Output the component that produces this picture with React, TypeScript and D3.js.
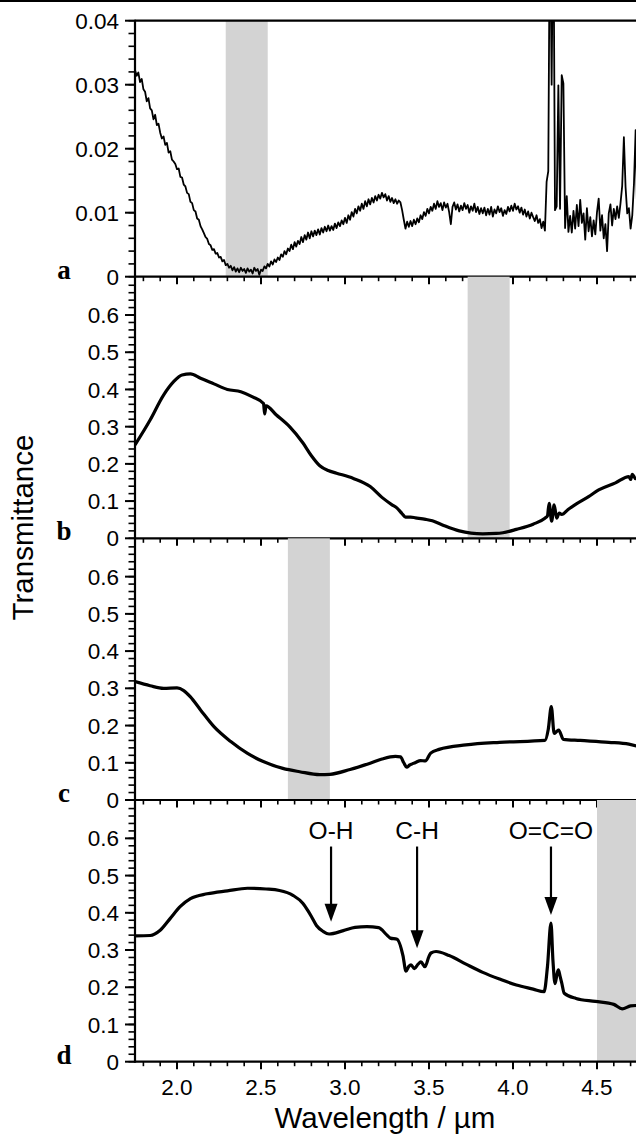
import {curveLinear, curveMonotoneX, format, line, range, scaleLinear} from "d3";

const WIDTH = 636;
const HEIGHT = 1136;

// panel a is sampled every 0.01 µm from 1.75 µm; values are transmittance × 10³
const WAVE_A = range(301).map((i) => +(1.75 + i * 0.01).toFixed(2));
const TRANS_A_E3 = [
  32.3, 31.4, 31.9, 30.4, 30.9, 29.3, 28.9, 27.4, 27.9, 26.3,
  26.0, 24.6, 25.3, 23.7, 23.9, 22.5, 21.6, 21.9, 20.6, 20.9,
  19.4, 19.6, 18.3, 18.0, 17.6, 16.8, 16.9, 15.6, 15.5, 14.4,
  14.1, 13.1, 12.9, 11.7, 11.5, 10.4, 10.2, 9.1, 8.9, 7.9,
  7.4, 6.8, 6.2, 5.9, 5.1, 4.9, 4.2, 4.3, 3.6, 3.7,
  3.0, 3.1, 2.4, 2.6, 1.8, 2.0, 1.4, 1.7, 1.0, 1.5,
  0.8, 1.3, 0.7, 1.4, 0.9, 1.2, 0.6, 1.3, 0.8, 1.1,
  0.5, 1.4, 0.9, 1.2, 0.3, 1.1, 0.9, 1.6, 1.3, 2.0,
  1.6, 2.4, 1.9, 2.7, 2.3, 3.0, 2.6, 3.5, 3.1, 4.0,
  3.5, 4.4, 4.0, 5.0, 4.3, 5.4, 4.7, 5.6, 5.1, 6.2,
  5.4, 6.5, 5.8, 6.9, 6.0, 7.1, 6.3, 7.2, 6.5, 7.4,
  6.6, 7.6, 6.9, 7.8, 7.1, 8.0, 7.2, 7.9, 7.3, 8.3,
  7.6, 8.5, 7.9, 8.8, 8.2, 9.2, 8.4, 9.6, 8.9, 10.1,
  9.4, 10.6, 9.9, 11.0, 10.3, 11.4, 10.6, 11.8, 11.0, 12.1,
  11.3, 12.3, 11.6, 12.6, 11.9, 12.8, 12.2, 13.1, 12.4, 12.9,
  11.9, 12.6, 11.7, 12.3, 11.5, 12.1, 11.4, 11.9, 11.6, 10.4,
  8.9, 7.5, 8.6, 7.8, 8.7, 7.9, 8.9, 8.2, 9.1, 8.5,
  9.6, 9.0, 10.1, 9.5, 10.6, 9.9, 10.9, 10.3, 11.4, 10.6,
  11.8, 10.9, 11.5, 10.4, 11.6, 10.8, 11.4, 10.1, 8.2, 10.9,
  11.6, 10.5, 11.3, 10.2, 11.1, 10.4, 11.5, 10.6, 11.2, 10.0,
  11.0, 10.3, 11.4, 10.1, 10.9, 9.8, 10.7, 9.9, 10.8, 9.6,
  10.6, 9.7, 10.9, 9.4, 10.5, 9.9, 11.0, 10.1, 10.7, 9.5,
  10.4, 9.8, 10.9, 10.2, 11.1, 10.3, 11.4, 10.5, 11.0, 10.0,
  10.8, 9.7, 10.5, 9.4, 10.2, 9.1, 10.0, 9.3, 8.7, 9.6,
  8.4, 9.0, 7.6, 8.6, 7.2, 14.8, 16.5, 60, 30, 60,
  10.4, 11.0, 29.9, 10.6, 31.5, 30.2, 7.6, 12.6, 7.0, 9.5,
  6.9, 10.3, 7.5, 11.2, 7.9, 12.0, 8.4, 9.9, 5.8, 10.7,
  7.1, 9.3, 6.3, 8.8, 6.6, 10.1, 12.2, 7.2, 9.6, 6.0,
  8.2, 4.0, 9.9, 11.3, 8.0, 10.6, 9.0, 11.0, 9.2, 11.5,
  14.2, 21.8, 14.0, 9.9, 10.7, 7.5, 9.6, 14.5, 22.9, 8.3,
  7.0
];

const WAVE_B = [
  1.75, 1.84, 1.92, 1.98, 2.03, 2.08, 2.14, 2.22, 2.3, 2.38, 2.45, 2.515, 2.522, 2.53,
  2.59, 2.67, 2.75, 2.8, 2.85, 2.9, 2.95, 3.05, 3.15, 3.22, 3.28, 3.31, 3.34, 3.36,
  3.39, 3.42, 3.48, 3.52, 3.58, 3.68, 3.75, 3.82, 3.9, 3.94, 4.02, 4.12, 4.19, 4.205,
  4.215, 4.23, 4.245, 4.26, 4.275, 4.29, 4.33, 4.375, 4.45, 4.51, 4.61, 4.69, 4.7,
  4.71, 4.73, 4.75
];
const TRANS_B = [
  0.251, 0.318, 0.385, 0.421, 0.439, 0.442, 0.43, 0.415, 0.4, 0.394, 0.38, 0.362, 0.334, 0.356,
  0.332, 0.3, 0.256, 0.222, 0.195, 0.182, 0.175, 0.161, 0.139, 0.11, 0.09, 0.081, 0.066, 0.057,
  0.057, 0.055, 0.051, 0.047, 0.036, 0.02, 0.014, 0.012, 0.013, 0.015, 0.024, 0.038, 0.054, 0.06,
  0.094, 0.046, 0.09, 0.054, 0.068, 0.064, 0.078, 0.092, 0.112, 0.13, 0.149, 0.166, 0.158,
  0.172, 0.16, 0.17
];

const WAVE_C = [
  1.75, 1.84, 1.92, 2.0, 2.04, 2.08, 2.14, 2.22, 2.32, 2.42, 2.51, 2.63, 2.73, 2.85,
  2.91, 3.03, 3.15, 3.22, 3.3, 3.33, 3.35, 3.367, 3.385, 3.4, 3.42, 3.45, 3.478, 3.51,
  3.56, 3.72, 3.92, 4.19, 4.21, 4.228, 4.245, 4.26, 4.272, 4.3, 4.4, 4.57, 4.69, 4.75
];
const TRANS_C = [
  0.318, 0.307, 0.3, 0.301, 0.294, 0.277, 0.242, 0.197, 0.157, 0.125, 0.104, 0.085, 0.076, 0.068,
  0.069, 0.082, 0.099, 0.11, 0.117, 0.116, 0.1, 0.088, 0.094, 0.097, 0.101, 0.106, 0.105, 0.126,
  0.136, 0.148, 0.155, 0.16, 0.19, 0.251, 0.179, 0.184, 0.188, 0.163, 0.16, 0.155, 0.15, 0.143
];

const WAVE_D = [
  1.75, 1.84, 1.9, 1.96, 2.02, 2.08, 2.18, 2.3, 2.42, 2.53, 2.61, 2.69, 2.75, 2.78,
  2.8, 2.83, 2.87, 2.905, 2.99, 3.06, 3.13, 3.2, 3.25, 3.27, 3.31, 3.345, 3.363, 3.38,
  3.393, 3.413, 3.435, 3.452, 3.476, 3.5, 3.512, 3.542, 3.62, 3.72, 3.82, 3.92, 4.02, 4.12,
  4.185, 4.205, 4.226, 4.238, 4.25, 4.262, 4.27, 4.28, 4.29, 4.305, 4.375, 4.49, 4.6,
  4.65, 4.7, 4.73, 4.75
];
const TRANS_D = [
  0.338, 0.339, 0.353, 0.385, 0.417, 0.438, 0.451, 0.459, 0.466, 0.464, 0.46, 0.447, 0.425, 0.405,
  0.39, 0.366, 0.35, 0.343, 0.352, 0.361, 0.363, 0.36, 0.34, 0.332, 0.329, 0.285, 0.243, 0.256,
  0.26, 0.25, 0.262, 0.268, 0.255, 0.283, 0.292, 0.296, 0.285, 0.262, 0.24, 0.222, 0.206, 0.195,
  0.188, 0.255, 0.372, 0.27, 0.21, 0.235, 0.247, 0.23, 0.212, 0.184, 0.17, 0.162, 0.154,
  0.142, 0.15, 0.151, 0.146
];

// shaded wavelength window of each panel, µm
const BANDS = [
  [2.29, 2.54],
  [3.73, 3.98],
  [2.66, 2.91],
  [4.5, 4.75]
];
const PANEL_LETTERS = ["a", "b", "c", "d"];

const X_MINOR = range(18, 48).map((i) => i / 10);
const X_MAJOR = [2.0, 2.5, 3.0, 3.5, 4.0, 4.5];

// annotations on panel d: wavelength, arrow tip and tail in transmittance
const NOTE_LABELS = ["O-H", "C-H", "O=C=O"];
const NOTE_WAVES = [2.917, 3.429, 4.226];
const NOTE_TIPS = [0.376, 0.305, 0.394];
const NOTE_TAIL = 0.578;
const NOTE_TEXT = 0.598;

const FONT = "'Liberation Sans', Arial, Helvetica, sans-serif";

type Pt = {w: number; t: number};

const PANELS = [
  {
    top: 20.7,
    bottom: 276.7,
    yMax: 0.04,
    minor: range(0, 21).map((i) => i * 0.002),
    major: [0, 0.01, 0.02, 0.03, 0.04],
    fmt: format(".2f"),
    data: WAVE_A.map((w, i) => ({w, t: TRANS_A_E3[i] / 1000})),
    curve: curveLinear,
    stroke: 1.8
  },
  {
    top: 276.7,
    bottom: 538.3,
    yMax: 0.703,
    minor: range(0, 35).map((i) => i * 0.02),
    major: [0, 0.1, 0.2, 0.3, 0.4, 0.5, 0.6],
    fmt: format(".1f"),
    data: WAVE_B.map((w, i) => ({w, t: TRANS_B[i]})),
    curve: curveMonotoneX,
    stroke: 3.2
  },
  {
    top: 538.3,
    bottom: 800,
    yMax: 0.703,
    minor: range(0, 35).map((i) => i * 0.02),
    major: [0, 0.1, 0.2, 0.3, 0.4, 0.5, 0.6],
    fmt: format(".1f"),
    data: WAVE_C.map((w, i) => ({w, t: TRANS_C[i]})),
    curve: curveMonotoneX,
    stroke: 3.2
  },
  {
    top: 800,
    bottom: 1061.7,
    yMax: 0.703,
    minor: range(0, 35).map((i) => i * 0.02),
    major: [0, 0.1, 0.2, 0.3, 0.4, 0.5, 0.6],
    fmt: format(".1f"),
    data: WAVE_D.map((w, i) => ({w, t: TRANS_D[i]})),
    curve: curveMonotoneX,
    stroke: 3.2
  }
];

export default function App() {
  const left = 135;
  const x = scaleLinear().domain([1.75, 4.75]).range([left, left + 504]);
  const lastBottom = PANELS[PANELS.length - 1].bottom;

  return (
    <svg
      width={WIDTH}
      height={HEIGHT}
      viewBox={`0 0 ${WIDTH} ${HEIGHT}`}
      style={{position: "absolute", left: 0, top: 0, background: "#fff"}}
    >
      <rect width={WIDTH} height={HEIGHT} fill="#fff" />
      <line x1={0} x2={WIDTH} y1={1} y2={1} stroke="#000" strokeWidth={2} />
      <defs>
        {PANELS.map((p, i) => (
          <clipPath key={i} id={`clip-${i}`}>
            <rect x={left} y={p.top} width={WIDTH - left} height={p.bottom - p.top} />
          </clipPath>
        ))}
      </defs>

      {PANELS.map((p, i) => {
        const y = scaleLinear().domain([0, p.yMax]).range([p.bottom, p.top]);
        const path = line<Pt>()
          .x((d) => x(d.w))
          .y((d) => y(d.t))
          .curve(p.curve);
        return (
          <g key={i}>
            <rect
              x={x(BANDS[i][0])}
              y={p.top}
              width={x(BANDS[i][1]) - x(BANDS[i][0])}
              height={p.bottom - p.top}
              fill="#d3d3d3"
            />
            <path
              d={path(p.data) ?? ""}
              fill="none"
              stroke="#000"
              strokeWidth={p.stroke}
              strokeLinejoin="round"
              clipPath={`url(#clip-${i})`}
            />
            {p.minor.map((v) => (
              <line key={`m${v}`} x1={left - 6.5} x2={left} y1={y(v)} y2={y(v)} stroke="#000" strokeWidth={1.6} />
            ))}
            {p.major.map((v) => (
              <g key={`M${v}`}>
                <line x1={left - 10} x2={left} y1={y(v)} y2={y(v)} stroke="#000" strokeWidth={2} />
                <text
                  x={left - 16}
                  y={y(v)}
                  dy="0.36em"
                  textAnchor="end"
                  fontFamily={FONT}
                  fontSize={22.5}
                >
                  {v === 0 ? "0" : p.fmt(v)}
                </text>
              </g>
            ))}
            {X_MINOR.map((w) => (
              <line key={`xm${w}`} x1={x(w)} x2={x(w)} y1={p.bottom} y2={p.bottom + 4.5} stroke="#000" strokeWidth={1.6} />
            ))}
            {X_MAJOR.map((w) => (
              <line key={`xM${w}`} x1={x(w)} x2={x(w)} y1={p.bottom} y2={p.bottom + 7.5} stroke="#000" strokeWidth={2} />
            ))}
            <line x1={left} x2={WIDTH} y1={p.bottom} y2={p.bottom} stroke="#000" strokeWidth={2.2} />
            <text
              x={64}
              y={p.bottom + 2}
              textAnchor="middle"
              fontFamily="'Liberation Serif', 'Times New Roman', serif"
              fontWeight="bold"
              fontSize={27}
            >
              {PANEL_LETTERS[i]}
            </text>
            {i === PANELS.length - 1 &&
              NOTE_LABELS.map((label, k) => {
                const ax = x(NOTE_WAVES[k]);
                const tip = y(NOTE_TIPS[k]);
                return (
                  <g key={label}>
                    <text x={ax} y={y(NOTE_TEXT)} textAnchor="middle" fontFamily={FONT} fontSize={24.5}>
                      {label}
                    </text>
                    <line x1={ax} x2={ax} y1={y(NOTE_TAIL)} y2={tip - 12} stroke="#000" strokeWidth={2.2} />
                    <path d={`M${ax - 6.5},${tip - 18}L${ax + 6.5},${tip - 18}L${ax},${tip}Z`} fill="#000" />
                  </g>
                );
              })}
          </g>
        );
      })}

      <line x1={left} x2={WIDTH} y1={PANELS[0].top} y2={PANELS[0].top} stroke="#000" strokeWidth={2.2} />
      <line x1={left} x2={left} y1={PANELS[0].top - 1} y2={lastBottom + 1} stroke="#000" strokeWidth={2.2} />

      {X_MAJOR.map((w) => (
        <text key={`xl${w}`} x={x(w)} y={lastBottom + 33} textAnchor="middle" fontFamily={FONT} fontSize={22.5}>
          {format(".1f")(w)}
        </text>
      ))}
      <text x={385} y={1128} textAnchor="middle" fontFamily={FONT} fontSize={29.5}>
        Wavelength / µm
      </text>
      <text
        transform="translate(33,527.5) rotate(-90)"
        textAnchor="middle"
        fontFamily={FONT}
        fontSize={29.5}
      >
        Transmittance
      </text>
    </svg>
  );
}
